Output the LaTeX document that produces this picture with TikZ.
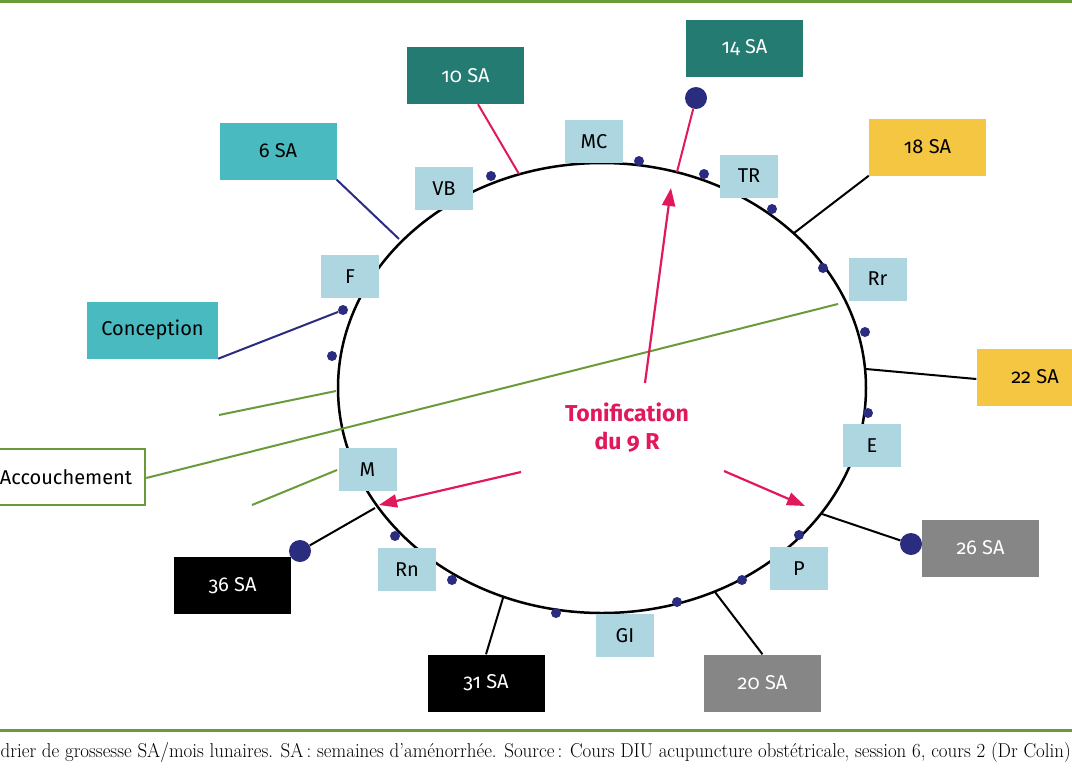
\documentclass[tikz,border=0pt]{standalone}
\usepackage{fontspec}
\usepackage{graphicx}
\newfontfamily\boxfont[Numbers=OldStyle]{Fira Sans}
\usetikzlibrary{arrows.meta,calc}
\definecolor{darkteal}{HTML}{247B72}
\definecolor{midteal}{HTML}{4ABAC1}
\definecolor{lightbl}{HTML}{ADD6E1}
\definecolor{sayellow}{HTML}{F4C641}
\definecolor{sagray}{HTML}{868686}
\definecolor{navydot}{HTML}{2A2C80}
\definecolor{pinkred}{HTML}{E1195B}
\definecolor{olivegreen}{HTML}{6A9B3A}
\tikzset{
  sabox/.style={minimum width=117pt, minimum height=57pt, inner sep=0pt, font=\boxfont\fontsize{20}{24}\selectfont},
  lbbox/.style={fill=lightbl, minimum width=58pt, minimum height=43pt, inner sep=0pt, font=\boxfont\fontsize{20}{24}\selectfont},
  smalldot/.style={circle, fill=navydot, minimum size=10pt, inner sep=0pt},
  bigdot/.style={circle, fill=navydot, minimum size=22pt, inner sep=0pt},
  blackconn/.style={draw=black, line width=2pt},
  navyconn/.style={draw=navydot, line width=2pt},
  pinkconn/.style={draw=pinkred, line width=2pt},
  greenline/.style={draw=olivegreen, line width=2pt},
  pinkarrow/.style={draw=pinkred, line width=2.2pt, -{Triangle[length=18pt,width=13pt]}, fill=pinkred},
}
\begin{document}
\begin{tikzpicture}[x=1pt,y=-1pt]
\useasboundingbox (0,0) rectangle (1072,772);
\clip (0,0) rectangle (1072,772);
\fill[white] (0,0) rectangle (1072,772);

% frame lines
\coordinate (tl) at (0,1.5); \coordinate (tr) at (1072,1.5);
\coordinate (bl) at (0,730); \coordinate (br) at (1072,730);
\draw[draw=olivegreen, line width=3pt] (tl) -- (tr);
\draw[draw=olivegreen, line width=3pt] (bl) -- (br);

% main ellipse
\draw[line width=2.5pt] (602,388) ellipse [x radius=264pt, y radius=225pt];

% points on the ellipse
\coordinate (k6) at (399,239);
\coordinate (k10) at (519,174);
\coordinate (k14) at (677,172);
\coordinate (k18) at (794,233);
\coordinate (k22) at (866,369);
\coordinate (k26) at (822,514);
\coordinate (k20) at (715,592);
\coordinate (k31) at (503,598);
\coordinate (k36) at (375,508);

% SA boxes
\node[sabox, fill=midteal] (sa6) at (278,151) {6 SA};
\node[sabox, fill=darkteal, text=white] (sa10) at (465.5,75.5) {10 SA};
\node[sabox, fill=darkteal, text=white] (sa14) at (744.5,48) {14 SA};
\node[sabox, fill=sayellow] (sa18) at (927.5,147) {18 SA};
\node[sabox, fill=sayellow] (sa22) at (1035,377) {22 SA};
\node[sabox, fill=sagray, text=white] (sa26) at (980.5,548) {26 SA};
\node[sabox, fill=sagray, text=white] (sa20) at (762.5,683) {20 SA};
\node[sabox, fill=black, text=white] (sa31) at (486,683) {31 SA};
\node[sabox, fill=black, text=white] (sa36) at (232.5,585.5) {36 SA};
\node[sabox, fill=midteal, minimum width=131pt] (conc) at (152.5,330) {Conception};
\node[sabox, fill=white, draw=olivegreen, line width=2.5pt, minimum width=171pt, minimum height=56pt] (acc) at (59.5,477) {\hspace*{13pt}Accouchement};

% light blue boxes
\node[lbbox] (vb) at (444,188.5) {VB};
\node[lbbox] (f) at (350,276.5) {F};
\node[lbbox] (mc) at (594,141.5) {MC};
\node[lbbox] (tr) at (749,176) {TR};
\node[lbbox] (rr) at (877.5,279) {Rr};
\node[lbbox] (e) at (872,445.5) {E};
\node[lbbox] (p) at (799,568.5) {P};
\node[lbbox] (gi) at (625,635.5) {GI};
\node[lbbox] (rn) at (407,569.5) {Rn};
\node[lbbox] (m) at (367.5,469.5) {M};

% dots
\node[smalldot] (d1) at (343,310) {};
\node[smalldot] (d2) at (332,356) {};
\node[smalldot] (d3) at (491,176) {};
\node[smalldot] (d4) at (639,161) {};
\node[smalldot] (d5) at (704,174) {};
\node[smalldot] (d6) at (772,209) {};
\node[smalldot] (d7) at (823,268) {};
\node[smalldot] (d8) at (865,332) {};
\node[smalldot] (d9) at (868,413) {};
\node[smalldot] (d10) at (799,535) {};
\node[smalldot] (d11) at (742,580) {};
\node[smalldot] (d12) at (677,602) {};
\node[smalldot] (d13) at (556,613) {};
\node[smalldot] (d14) at (452,580) {};
\node[smalldot] (d15) at (395,536) {};
\node[bigdot] (b14) at (696,98) {};
\node[bigdot] (b26) at (911,544) {};
\node[bigdot] (b36) at (300,551) {};

% connectors
\draw[navyconn] (sa6.south east) -- (k6);
\draw[navyconn] (conc.south east) -- (d1);
\draw[pinkconn] ($(sa10.south)+(12.5,0)$) -- (k10);
\draw[pinkconn] (b14) -- (k14);
\draw[blackconn] (sa18.south west) -- (k18);
\draw[blackconn] (k22) -- ($(sa22.west)+(0,2)$);
\draw[blackconn] (k26) -- (b26);
\draw[blackconn] (k20) -- (sa20.north);
\draw[blackconn] (k31) -- (sa31.north);
\draw[blackconn] (k36) -- (b36);

% green lines
\coordinate (g1) at (838,304);
\coordinate (g2a) at (219,415); \coordinate (g2b) at (336,391);
\coordinate (g3a) at (252,505); \coordinate (g3b) at (337,470);
\draw[greenline] ($(acc.east)+(0,1)$) -- (g1);
\draw[greenline] (g2a) -- (g2b);
\draw[greenline] (g3a) -- (g3b);

% tonification
\node[text=pinkred, font=\boxfont\bfseries\fontsize{23}{28}\selectfont, align=center] (ton) at (627,428) {Tonification\\du 9 R};
\coordinate (a1s) at (645,383); \coordinate (a1e) at (671,188);
\coordinate (a2s) at (521,472); \coordinate (a2e) at (379,505);
\coordinate (a3s) at (724,471); \coordinate (a3e) at (805,506);
\draw[pinkarrow] (a1s) -- (a1e);
\draw[pinkarrow] (a2s) -- (a2e);
\draw[pinkarrow] (a3s) -- (a3e);

% caption
\node[anchor=base west, inner sep=0pt] (cap) at (0.5,757) {\resizebox{1070pt}{15pt}{\fontsize{17}{20}\selectfont drier de grossesse SA/mois lunaires. SA\,: semaines d’aménorrhée. Source\,: Cours DIU acupuncture obstétricale, session 6, cours 2 (Dr Colin)}};
\end{tikzpicture}
\end{document}
